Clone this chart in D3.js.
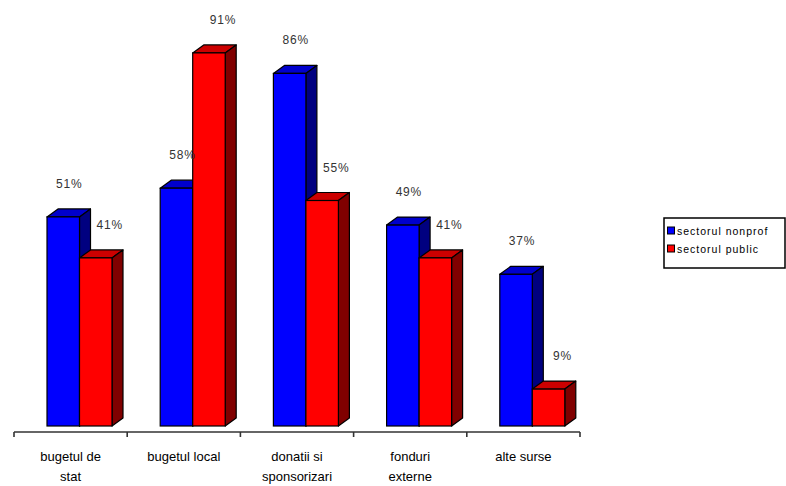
<!DOCTYPE html>
<html>
<head>
<meta charset="utf-8">
<script src="https://cdn.jsdelivr.net/npm/d3@7"></script>
<style>
  html, body { margin: 0; padding: 0; background: #fff; }
  svg { display: block; }
</style>
</head>
<body>
<svg id="chart" width="786" height="486"></svg>
<script>
// Funding sources by sector (% of organisations)
const categories = [["bugetul de", "stat"], ["bugetul local"], ["donatii si", "sponsorizari"], ["fonduri", "externe"], ["alte surse"]];
const seriesNames = ["sectorul nonprof", "sectorul public"];
const nonprofValues = [51, 58, 86, 49, 37];
const publicValues = [41, 91, 55, 41, 9];

const colors = [
  { front: "#0000ff", top: "#0000cc", side: "#000080" },
  { front: "#ff0000", top: "#cc0000", side: "#800000" }
];
const labelShift = [6, 14];

const svg = d3.select("#chart");
const baseY = 426, axisY = 432;
const x = d3.scaleBand().domain(d3.range(categories.length)).range([14, 580]).padding(0);
const y = d3.scaleLinear().domain([0, 100]).range([baseY, 16]);

const depthX = 11, depthY = 8;
const barW = 32.5, groupOffset = 33;

const series = [nonprofValues, publicValues];

// bars: top, side, front face
series.forEach((vals, s) => {
  const g = svg.append("g");
  vals.forEach((v, i) => {
    const x0 = x(i) + groupOffset + s * barW;
    const x1 = x0 + barW;
    const yt = y(v);
    const c = colors[s];
    g.append("polygon")
      .attr("points", [[x0, yt], [x0 + depthX, yt - depthY], [x1 + depthX, yt - depthY], [x1, yt]].map(p => p.join(",")).join(" "))
      .attr("fill", c.top).attr("stroke", "#000").attr("stroke-width", 1.2).attr("stroke-linejoin", "round");
    g.append("polygon")
      .attr("points", [[x1, yt], [x1 + depthX, yt - depthY], [x1 + depthX, baseY - depthY], [x1, baseY]].map(p => p.join(",")).join(" "))
      .attr("fill", c.side).attr("stroke", "#000").attr("stroke-width", 1.2).attr("stroke-linejoin", "round");
    g.append("rect")
      .attr("x", x0).attr("y", yt).attr("width", barW).attr("height", baseY - yt)
      .attr("fill", c.front).attr("stroke", "#000").attr("stroke-width", 1.2);
  });
});

// value labels drawn above everything
series.forEach((vals, s) => {
  vals.forEach((v, i) => {
    const x0 = x(i) + groupOffset + s * barW;
    svg.append("text")
      .attr("x", x0 + barW / 2 + labelShift[s])
      .attr("y", y(v) - 29)
      .attr("text-anchor", "middle")
      .attr("font-family", "Liberation Sans, Arial, sans-serif")
      .attr("font-size", 12)
      .attr("letter-spacing", 0.8)
      .attr("fill", "#333")
      .text(v + "%");
  });
});

// category axis
const axis = svg.append("g").attr("stroke", "#333").attr("stroke-width", 1.6);
axis.append("line").attr("x1", x.range()[0]).attr("x2", x.range()[1]).attr("y1", axisY).attr("y2", axisY);
const tickXs = d3.range(categories.length).map(i => x(i)).concat([x.range()[1]]);
axis.selectAll("line.tick").data(tickXs).join("line")
  .attr("class", "tick")
  .attr("x1", d => d).attr("x2", d => d).attr("y1", axisY).attr("y2", axisY + 5);

// category labels
categories.forEach((lines, i) => {
  const t = svg.append("text")
    .attr("x", x(i) + x.bandwidth() / 2)
    .attr("text-anchor", "middle")
    .attr("font-family", "Liberation Sans, Arial, sans-serif")
    .attr("font-size", 13)
    .attr("fill", "#000");
  lines.forEach((ln, k) => {
    t.append("tspan").attr("x", x(i) + x.bandwidth() / 2).attr("y", 461 + k * 20).text(ln);
  });
});

// legend
const lg = svg.append("g");
lg.append("rect").attr("x", 664).attr("y", 218).attr("width", 121).attr("height", 50)
  .attr("fill", "#fff").attr("stroke", "#000").attr("stroke-width", 1.5);
seriesNames.forEach((name, s) => {
  const yy = 227 + s * 18;
  lg.append("rect").attr("x", 667.5).attr("y", yy).attr("width", 7).attr("height", 7)
    .attr("fill", colors[s].front).attr("stroke", "#000").attr("stroke-width", 1);
  lg.append("text").attr("x", 677).attr("y", yy + 7.5)
    .attr("font-family", "Liberation Sans, Arial, sans-serif")
    .attr("font-size", 10.5).attr("letter-spacing", 1.0)
    .attr("fill", "#000").text(name);
});
</script>
</body>
</html>
